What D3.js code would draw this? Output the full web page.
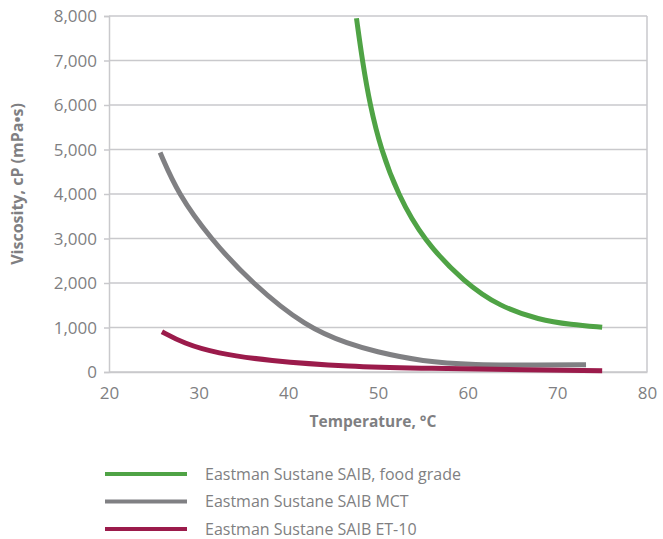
<!DOCTYPE html>
<html>
<head>
<meta charset="utf-8">
<script src="https://cdnjs.cloudflare.com/ajax/libs/d3/7.8.5/d3.min.js"></script>
<style>
body { margin:0; background:#fff; overflow:hidden; }
svg { display:block; }
text { font-family: "Open Sans", sans-serif; }
</style>
</head>
<body>
<div id="graph"></div>
<script>
// values
var seriesNames = ["Eastman Sustane SAIB, food grade", "Eastman Sustane SAIB MCT", "Eastman Sustane SAIB ET-10"];
var seriesColors = ["#4fa345", "#808083", "#9b1b4b"];

var foodTemp = [47.6, 48.25, 49.1, 50.33, 52.2, 55.05, 59.7, 63.6, 68.0, 71.5, 75.0];
var foodVisc = [7950, 7000, 6000, 5000, 4000, 2966, 2000, 1470, 1170, 1065, 1005];

var mctTemp = [25.7, 27.7, 31.3, 35.9, 42.0, 46.9, 49.5, 55.0, 60.6, 68.0, 73.2];
var mctVisc = [4930, 4000, 3000, 2000, 1000, 620, 470, 230, 160, 152, 162];

var etTemp = [25.9, 28.3, 32.0, 37.6, 46.9, 55.0, 62.0, 75.0];
var etVisc = [906, 645, 420, 255, 120, 85, 60, 30];

var xTicks = [20, 30, 40, 50, 60, 70, 80];
var yTicks = [0, 1000, 2000, 3000, 4000, 5000, 6000, 7000, 8000];

function zip(t, v){ return t.map(function(d,i){ return {t:d, v:v[i]}; }); }
var series = [zip(foodTemp, foodVisc), zip(mctTemp, mctVisc), zip(etTemp, etVisc)];

var svg = d3.select('#graph').append("svg").attr("width", 663).attr("height", 539);

var margin = {left:109, top:16};
var width = 538, height = 356;

var x = d3.scaleLinear().domain([20, 80]).range([0, width]);
var y = d3.scaleLinear().domain([0, 8000]).range([height, 0]);

var g = svg.append("g").attr("transform", "translate(" + margin.left + "," + margin.top + ")");

// gridlines
g.selectAll("line.grid")
    .data(yTicks)
    .enter().append("line")
    .attr("class", "grid")
    .attr("x1", 0).attr("x2", width)
    .attr("y1", y).attr("y2", y)
    .attr("stroke", "#c9c9cc").attr("stroke-width", 1.5);

// right border
g.append("line")
    .attr("x1", width).attr("x2", width)
    .attr("y1", 0).attr("y2", height)
    .attr("stroke", "#c9c9cc").attr("stroke-width", 1.5);

var yAxis = d3.axisLeft(y).tickValues(yTicks).tickFormat(d3.format(",")).tickSize(5).tickPadding(7);
var yg = g.append("g").call(yAxis);
yg.select(".domain").attr("stroke", "#c9c9cc").attr("stroke-width", 1.5);
yg.selectAll(".tick line").attr("stroke", "#c9c9cc").attr("stroke-width", 1.5);
yg.selectAll(".tick text").attr("fill", "#7f7f82").style("font-size", "17px").attr("dy", "0.35em");

var xAxis = d3.axisBottom(x).tickValues(xTicks).tickSize(0).tickPadding(15);
var xg = g.append("g").attr("transform", "translate(0," + height + ")").call(xAxis);
xg.select(".domain").attr("stroke", "#c9c9cc").attr("stroke-width", 1.5);
xg.selectAll(".tick text").attr("fill", "#7f7f82").style("font-size", "17px");

// curves
var line = d3.line()
    .x(function(d){ return x(d.t); })
    .y(function(d){ return y(d.v); })
    .curve(d3.curveBasis);

g.selectAll("path.series")
    .data(series)
    .enter().append("path")
    .attr("class", "series")
    .attr("d", line)
    .attr("fill", "none")
    .attr("stroke", function(d,i){ return seriesColors[i]; })
    .attr("stroke-width", 5);

// axis titles
svg.append("text")
    .attr("x", 373).attr("y", 427)
    .attr("text-anchor", "middle")
    .attr("fill", "#7f7f82")
    .style("font-size", "15.5px").style("font-weight", "bold")
    .text("Temperature, °C");

svg.append("text")
    .attr("transform", "translate(23,184) rotate(-90)")
    .attr("text-anchor", "middle")
    .attr("fill", "#7f7f82")
    .style("font-size", "16px").style("font-weight", "bold")
    .text("Viscosity, cP (mPa\u2022s)");

// legend
var legend = svg.selectAll("g.legend")
    .data(seriesNames)
    .enter().append("g")
    .attr("class", "legend")
    .attr("transform", function(d,i){ return "translate(105," + (474 + i * 27.5) + ")"; });

legend.append("line")
    .attr("x1", 0).attr("x2", 82)
    .attr("stroke", function(d,i){ return seriesColors[i]; })
    .attr("stroke-width", 4);

legend.append("text")
    .attr("x", 100).attr("dy", "0.35em")
    .attr("fill", "#7f7f82")
    .style("font-size", "16px")
    .text(function(d){ return d; });
</script>
</body>
</html>
